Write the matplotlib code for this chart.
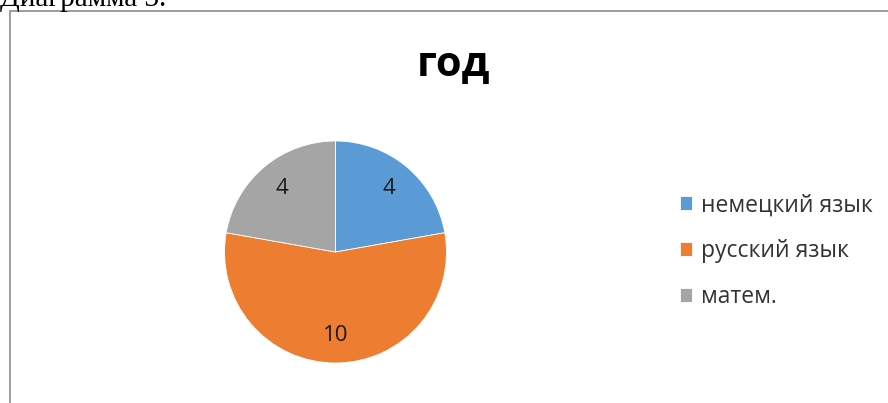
import matplotlib
matplotlib.use("Agg")
import matplotlib.pyplot as plt
from matplotlib.patches import Rectangle

categories = ["немецкий язык", "русский язык", "матем."]
values = [4, 10, 4]
colors = ["#5B9BD5", "#ED7D31", "#A5A5A5"]
title = "год"
caption = "Диаграмма 3."

W, H = 888, 403
fig = plt.figure(figsize=(W / 100, H / 100), dpi=100)
fig.patch.set_facecolor("white")

# chart border
fig.patches.append(Rectangle((9.5 / W, -0.05), 1.2, (H - 10.5) / H + 0.05,
                             transform=fig.transFigure, fill=False,
                             edgecolor="#8c8c8c", linewidth=1.2, zorder=0))

# caption above the chart (cut off at top, as in the source)
fig.text(0.0, (H - 6) / H, caption, family="Liberation Serif", fontsize=21,
         ha="left", va="baseline", color="black")

cx, cy, r = 335.5, 252, 111
ax = fig.add_axes([(cx - r) / W, (H - cy - r) / H, 2 * r / W, 2 * r / H])
wedges, texts = ax.pie(values, colors=colors, startangle=90, counterclock=False,
                       labels=[str(v) for v in values], labeldistance=0.75,
                       wedgeprops=dict(edgecolor="white", linewidth=0.6),
                       textprops=dict(fontsize=16, family="Open Sans", color="#1a1a1a"))
for t in texts:
    t.set_ha("center")
    t.set_va("center")
ax.set_aspect("equal")
ax.set_xlim(-1, 1)
ax.set_ylim(-1, 1)

fig.text(453 / W, (H - 65) / H, title, ha="center", va="center",
         fontsize=30, fontweight="bold", family="Open Sans", color="black")

leg = fig.legend(wedges, categories, loc="center left",
                 bbox_to_anchor=(659 / W, (H - 251) / H),
                 frameon=False, prop=dict(family="Open Sans", size=16.5),
                 handlelength=0.55, handleheight=0.55, handletextpad=0.4,
                 labelspacing=0.95, labelcolor="#333333")

fig.savefig("out.png", dpi=100)
